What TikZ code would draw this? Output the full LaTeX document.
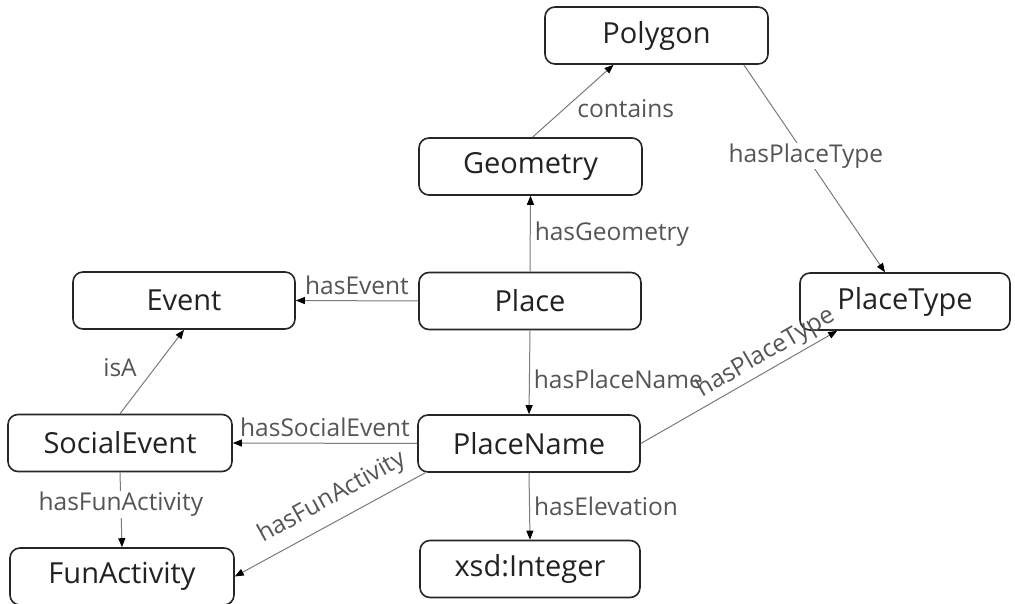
\documentclass[tikz,border=0pt]{standalone}
\usepackage{fontspec}
\setmainfont{Open Sans}
\usetikzlibrary{arrows.meta,calc}
\definecolor{boxtext}{HTML}{222222}
\definecolor{lbl}{HTML}{555555}
\definecolor{edgec}{HTML}{7A7A7A}
\begin{document}
\begin{tikzpicture}[x=1pt,y=-1pt,
  cls/.style={draw=black!85, line width=1.6pt, rounded corners=10pt, minimum height=57pt,
    inner sep=0pt, text=boxtext, font=\fontsize{29}{32}\selectfont},
  rel/.style={draw=edgec, line width=1pt, -{Triangle[length=9pt,width=7pt,color=black]}},
  lab/.style={text=lbl, font=\fontsize{24.5}{27}\selectfont, inner sep=2pt},
  wlab/.style={lab, fill=white, inner sep=1pt}
]
\useasboundingbox (0,0) rectangle (1015,604);
% nodes
\node[cls, minimum width=223pt] (poly) at (656.5,35.5) {Polygon};
\node[cls, minimum width=223pt] (geo) at (530.5,166.5) {Geometry};
\node[cls, minimum width=222pt] (event) at (184,300.5) {Event};
\node[cls, minimum width=222pt] (place) at (530,301) {Place};
\node[cls, minimum width=210pt] (ptype) at (905,301.5) {PlaceType};
\node[cls, minimum width=224pt] (soc) at (120,443) {SocialEvent};
\node[cls, minimum width=222pt] (pname) at (529,443.5) {PlaceName};
\node[cls, minimum width=224pt] (fun) at (122,576.5) {FunActivity};
\node[cls, minimum width=220pt] (int) at (530,569) {xsd:Integer};
% edges
\draw[rel] ($(geo.north)+(2,0)$) -- node[lab, pos=0.4, anchor=west, xshift=10pt] (lcont) {contains} ($(poly.south)+(-43,0)$);
\draw[rel] ($(poly.south east)+(-25,0)$) -- node[wlab, pos=0.44] (lpt1) {hasPlaceType} ($(ptype.north)+(-20,0)$);
\draw[rel] (place.north) -- node[lab, anchor=west, xshift=2pt] (lgeo) {hasGeometry} (geo.south);
\draw[rel] (place.west) -- node[lab, above, inner sep=6pt] (lev) {hasEvent} (event.east);
\draw[rel] (soc.north) -- node[lab, pos=0.55, anchor=east, xshift=-16pt] (lisa) {isA} (event.south);
\draw[rel] (place.south) -- node[lab, pos=0.58, anchor=west, xshift=2pt] (lpn) {hasPlaceName} (pname.north);
\draw[rel] (pname.west) -- node[lab, above, inner sep=6pt] (lse) {hasSocialEvent} (soc.east);
\draw[rel] (pname.east) -- node[lab, pos=0.68, rotate=30, anchor=south, inner sep=3pt] (lpt2) {hasPlaceType} ($(ptype.south west)+(38,0)$);
\draw[rel] ($(pname.south west)+(8,0)$) -- node[lab, pos=0.43, rotate=29, anchor=south, inner sep=10pt] (lfa2) {hasFunActivity} (fun.east);
\draw[rel] (soc.south) -- node[wlab, pos=0.43] (lfa1) {hasFunActivity} (fun.north);
\draw[rel] (pname.south) -- node[lab, anchor=west, xshift=2pt] (lel) {hasElevation} (int.north);
\end{tikzpicture}
\end{document}
